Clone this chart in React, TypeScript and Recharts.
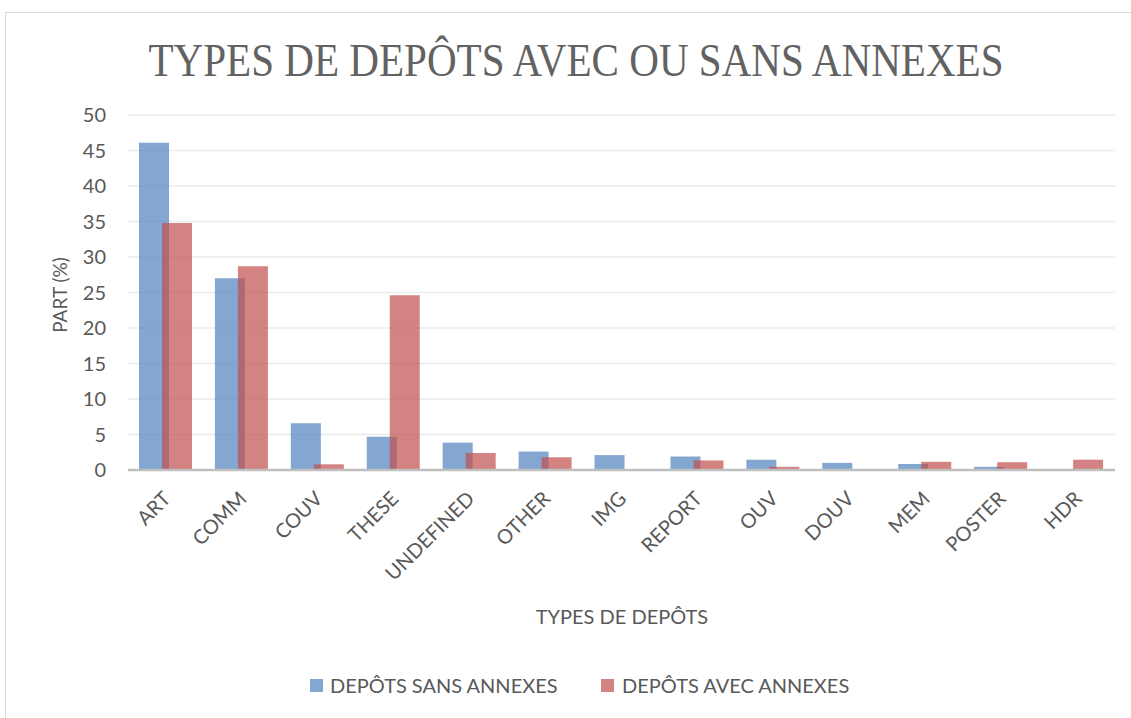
import React from 'react';
import { BarChart, Bar, XAxis, YAxis, CartesianGrid } from 'recharts';

const categories = ['ART', 'COMM', 'COUV', 'THESE', 'UNDEFINED', 'OTHER', 'IMG', 'REPORT', 'OUV', 'DOUV', 'MEM', 'POSTER', 'HDR'];
const sansAnnexes = [46.1, 27.0, 6.6, 4.7, 3.85, 2.6, 2.1, 1.9, 1.45, 1.0, 0.85, 0.45, 0.1];
const avecAnnexes = [34.8, 28.7, 0.8, 24.6, 2.4, 1.8, 0, 1.35, 0.45, 0.1, 1.15, 1.1, 1.45];
const yTicks = [0, 5, 10, 15, 20, 25, 30, 35, 40, 45, 50];

const seriesNames = ['DEPÔTS SANS ANNEXES', 'DEPÔTS AVEC ANNEXES'];
const title = 'TYPES DE DEPÔTS AVEC OU SANS ANNEXES';
const xTitle = 'TYPES DE DEPÔTS';
const yTitle = 'PART (%)';

const data = categories.map((c, i) => ({ name: c, sans: sansAnnexes[i], avec: avecAnnexes[i] }));

const TEXT = '#595959';
const FONT = 'Lato, "Open Sans", sans-serif';

const XTick = (props: any) => {
  const { x, y, payload } = props;
  const px = x + 6;
  const py = y + 22;
  return (
    <text x={px} y={py} transform={`rotate(-45 ${px} ${py})`} textAnchor="end" fontSize={20} fill={TEXT} fontFamily={FONT}>
      {payload.value}
    </text>
  );
};

export default function App() {
  return (
    <div style={{ position: 'absolute', left: 0, top: 0, width: 1131, height: 718, background: '#fff', overflow: 'hidden' }}>
      <BarChart
        width={1131}
        height={718}
        data={data}
        margin={{ top: 115, right: 16, left: 68, bottom: 0 }}
        barGap={-7}
        barCategoryGap={0}
      >
        <CartesianGrid vertical={false} stroke="#ebebeb" strokeWidth={1.5} />
        <XAxis
          dataKey="name"
          interval={0}
          tick={<XTick />}
          tickLine={false}
          axisLine={{ stroke: '#bfbfbf', strokeWidth: 2.5 }}
          height={248}
        />
        <YAxis
          domain={[0, 50]}
          ticks={yTicks}
          interval={0}
          width={60}
          axisLine={false}
          tickLine={false}
          tick={{ fill: TEXT, fontSize: 20, fontFamily: FONT }}
          tickMargin={16}
        />
        <Bar dataKey="sans" name={seriesNames[0]} fill="#4F81BD" fillOpacity={0.7} barSize={30} isAnimationActive={false} />
        <Bar dataKey="avec" name={seriesNames[1]} fill="#C0504D" fillOpacity={0.7} barSize={30} isAnimationActive={false} />
      </BarChart>
      <svg width={1131} height={718} style={{ position: 'absolute', left: 0, top: 0, pointerEvents: 'none' }}>
        <rect x={5.5} y={12.5} width={1140} height={720} fill="none" stroke="#d9d9d9" strokeWidth={1} />
        <text x={576} y={76} textAnchor="middle" fontSize={47} fill="#626262" fontFamily='"Liberation Serif", serif' textLength={855} lengthAdjust="spacingAndGlyphs">
          {title}
        </text>
        <text x={62} y={295} textAnchor="middle" fontSize={19} fill={TEXT} fontFamily={FONT} transform="rotate(-90 62 295)" dominantBaseline="middle">
          {yTitle}
        </text>
        <text x={622} y={624} textAnchor="middle" fontSize={20} fill={TEXT} fontFamily={FONT}>
          {xTitle}
        </text>
        <rect x={310} y={679} width={13} height={13} fill="#4F81BD" fillOpacity={0.7} />
        <text x={330} y={693} fontSize={20} fill={TEXT} fontFamily={FONT}>{seriesNames[0]}</text>
        <rect x={601} y={679} width={13} height={13} fill="#C0504D" fillOpacity={0.7} />
        <text x={622} y={693} fontSize={20} fill={TEXT} fontFamily={FONT}>{seriesNames[1]}</text>
      </svg>
    </div>
  );
}
